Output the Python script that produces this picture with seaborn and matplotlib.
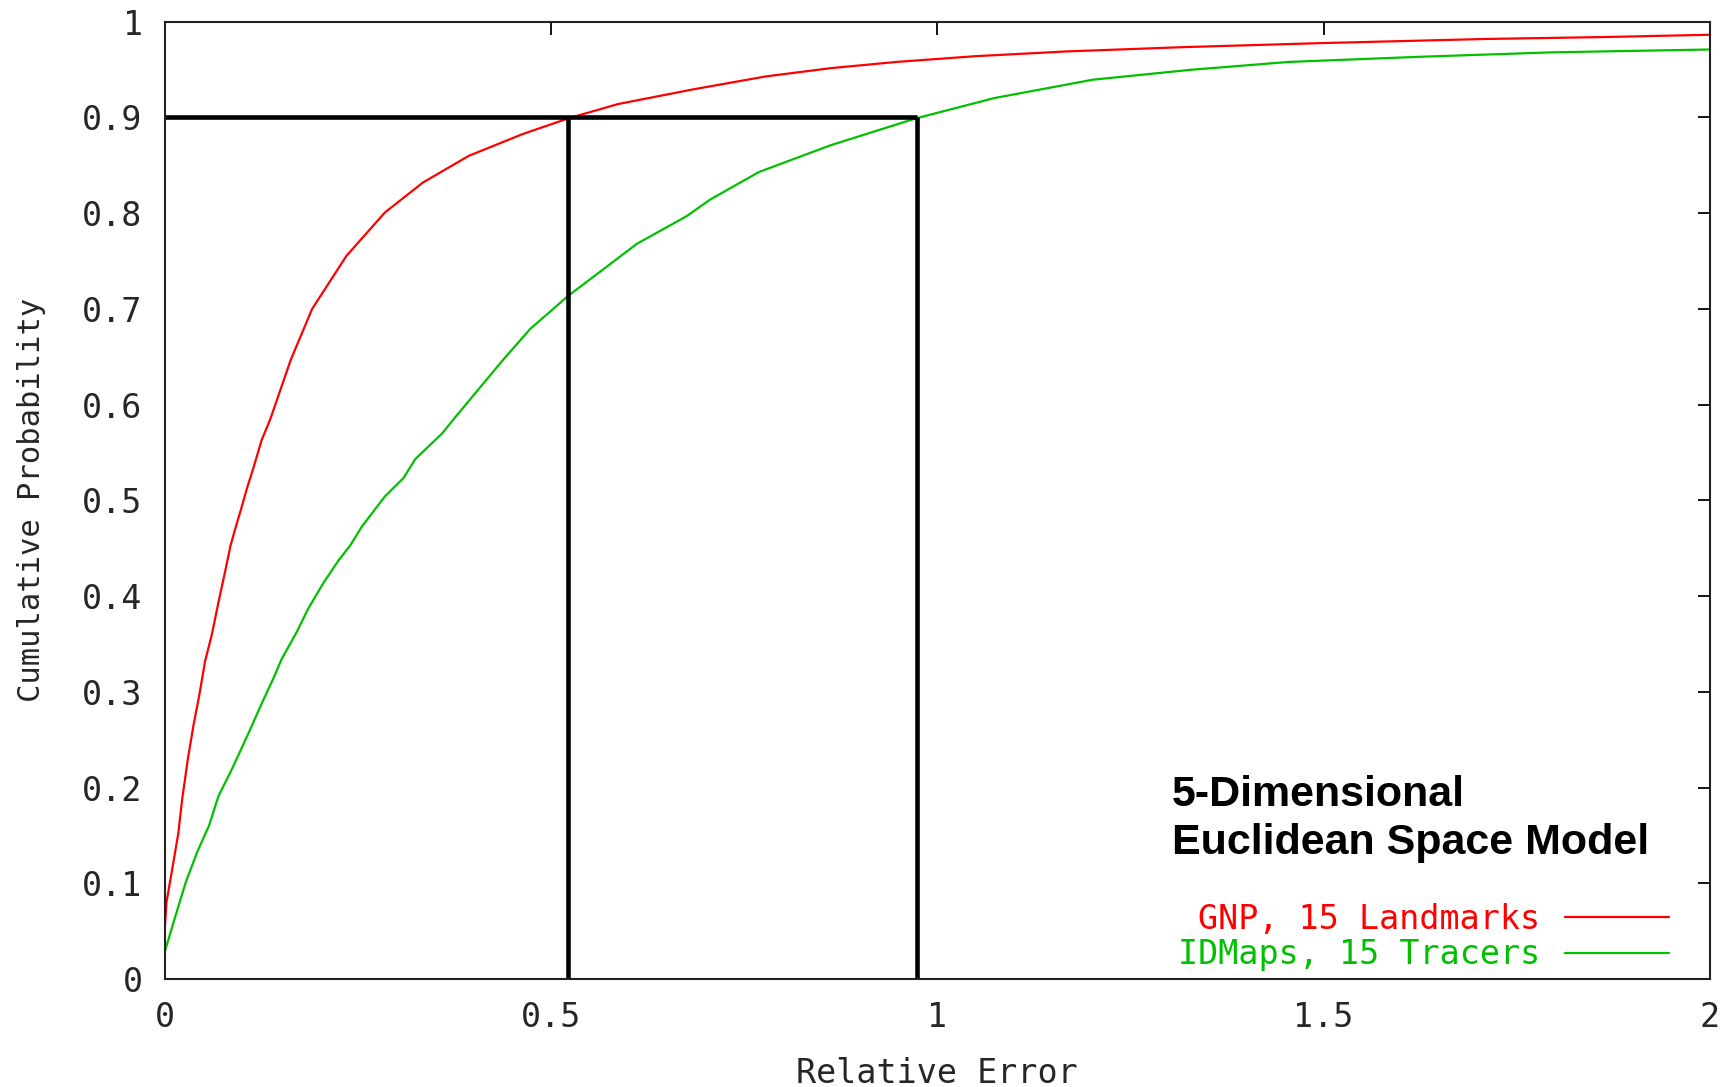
import numpy as np
import pandas as pd
import seaborn as sns
import matplotlib
matplotlib.use("Agg")
import matplotlib.pyplot as plt
from matplotlib.lines import Line2D

# values
gnp_err = [0.0, 0.002, 0.0099, 0.0173, 0.0223, 0.0297, 0.0371, 0.0446, 0.052,
           0.0605, 0.0705, 0.078, 0.085, 0.092, 0.099, 0.106, 0.115,
           0.125, 0.1365, 0.163, 0.1906, 0.235, 0.2847, 0.334, 0.3936, 0.463,
           0.522, 0.5866, 0.6856, 0.7774, 0.862, 0.947, 1.049, 1.168, 1.32,
           1.498, 1.71, 1.8625, 2.0]
gnp_prob = [0.055, 0.08, 0.117, 0.152, 0.1875, 0.23, 0.2656, 0.297, 0.332,
            0.359, 0.398, 0.426, 0.453, 0.473, 0.492, 0.512, 0.535,
            0.5625, 0.585, 0.647, 0.700, 0.7554, 0.8007, 0.832, 0.860, 0.8826,
            0.899, 0.914, 0.9296, 0.9428, 0.9515, 0.958, 0.964, 0.969, 0.9735,
            0.9777, 0.982, 0.984, 0.9864]

idm_err = [0.0, 0.0124, 0.0272, 0.042, 0.057, 0.0693, 0.0866, 0.1015, 0.1089,
           0.126, 0.141, 0.151, 0.171, 0.1856, 0.2054, 0.225, 0.24, 0.255,
           0.2847, 0.309, 0.324, 0.359, 0.375, 0.438, 0.4728, 0.522, 0.562,
           0.611, 0.6757, 0.7054, 0.769, 0.862, 0.972, 1.074, 1.201, 1.328,
           1.455, 1.625, 1.795, 2.0]
idm_prob = [0.029, 0.0625, 0.1016, 0.133, 0.160, 0.191, 0.219, 0.245, 0.258,
            0.289, 0.315, 0.334, 0.363, 0.387, 0.414, 0.4375, 0.453, 0.4727,
            0.504, 0.5234, 0.543, 0.570, 0.586, 0.647, 0.679, 0.7136, 0.738,
            0.768, 0.797, 0.814, 0.843, 0.871, 0.899, 0.9203, 0.9394, 0.9498,
            0.958, 0.9634, 0.968, 0.971]

# 90th percentile guide lines
p90 = 0.9
gnp_p90 = 0.522
idm_p90 = 0.974

labels = ["GNP, 15 Landmarks", "IDMaps, 15 Tracers"]
colours = ["#ff0000", "#00c000"]

df = pd.concat([
    pd.DataFrame({"err": gnp_err, "prob": gnp_prob, "method": labels[0]}),
    pd.DataFrame({"err": idm_err, "prob": idm_prob, "method": labels[1]}),
])

sns.set_style("white")
plt.rcParams["font.family"] = ["DejaVu Sans Mono", "DejaVu Sans"]
txt = "#262626"

fig = plt.figure(figsize=(17.27, 10.87), dpi=100)
ax = fig.add_axes([0.0955, 0.0994, 0.8945, 0.8806])

sns.lineplot(data=df, x="err", y="prob", hue="method", palette=colours,
             estimator=None, sort=False, linewidth=1.6, ax=ax, legend=False)

# black guide lines at the 0.9 level
ax.plot([0, idm_p90], [p90, p90], color="black", lw=3.3, solid_capstyle="butt")
ax.plot([gnp_p90, gnp_p90], [0, p90], color="black", lw=3.3, solid_capstyle="butt")
ax.plot([idm_p90, idm_p90], [0, p90], color="black", lw=3.3, solid_capstyle="butt")

ax.set_xlim(0, 2)
ax.set_ylim(0, 1)
ax.set_xticks([0, 0.5, 1, 1.5, 2])
ax.set_xticklabels(["0", "0.5", "1", "1.5", "2"])
yt = np.round(np.arange(0, 1.01, 0.1), 1)
ax.set_yticks(yt)
ax.set_yticklabels(["0"] + [f"{v:g}" for v in yt[1:-1]] + ["1"])

ax.tick_params(direction="in", length=9, width=1.3, top=True, right=True,
               labelsize=24, colors="black", labelcolor=txt)
ax.tick_params(axis="x", pad=16)
ax.tick_params(axis="y", pad=16)
for s in ax.spines.values():
    s.set_color("#222222")
    s.set_linewidth(1.5)

ax.set_xlabel("Relative Error", fontsize=24, color=txt)
ax.set_ylabel("Cumulative Probability", fontsize=22, color=txt)
ax.xaxis.set_label_coords(0.5, -0.082)
ax.yaxis.set_label_coords(-0.077, 0.5)

ax.text(0.652, 0.213, "5-Dimensional\nEuclidean Space Model",
        transform=ax.transAxes, ha="left", va="top", fontsize=31,
        fontweight="bold", family="Liberation Sans", linespacing=1.24,
        color="black")

handles = [Line2D([], [], color=c, lw=1.6) for c in colours]
leg = ax.legend(handles, labels, loc="lower right", frameon=False,
                markerfirst=False, fontsize=24, handlelength=3.1,
                handletextpad=0.75, labelspacing=0.08, borderpad=0,
                borderaxespad=0, bbox_to_anchor=(0.9735, 0.008))
for t, c in zip(leg.get_texts(), colours):
    t.set_color(c)

fig.savefig("out.png", dpi=100)
